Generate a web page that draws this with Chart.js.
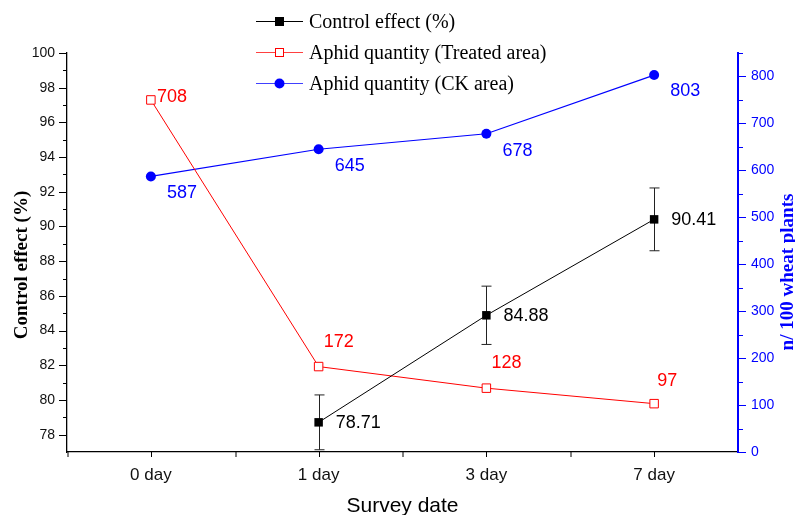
<!DOCTYPE html>
<html>
<head>
<meta charset="utf-8">
<script src="https://cdn.jsdelivr.net/npm/chart.js@4.4.0/dist/chart.umd.min.js"></script>
<style>
  html, body { margin: 0; padding: 0; background: #fff; }
  #wrap { width: 795px; height: 515px; }
</style>
</head>
<body>
<div id="wrap"><canvas id="chartAphid" width="795" height="515"></canvas></div>
<script>
// data
const days = ['0 day', '1 day', '3 day', '7 day'];
const controlEffect = [null, 78.71, 84.88, 90.41];
const controlErr = [null, 1.58, 1.68, 1.81];
const controlText = ['', '78.71', '84.88', '90.41'];
const treatedQty = [750, 182, 136, 103];
const treatedText = ['708', '172', '128', '97'];
const ckQty = [587, 645, 678, 803];
const ckText = ['587', '645', '678', '803'];
const leftTicks = [78, 80, 82, 84, 86, 88, 90, 92, 94, 96, 98, 100];
const rightTicks = [0, 100, 200, 300, 400, 500, 600, 700, 800];

const labelTexts = [controlText, treatedText, ckText];
// where each value label sits relative to its point
const labelOffsets = [
	[null, [17, 1], [17, 1], [17, 1]],
	[[6, -3], [5, -25], [5, -25], [3, -23]],
	[[16, 17], [16, 17], [16, 17], [16, 16]]
];

const extras = {
	id: 'extras',
	beforeDatasetsDraw(chart) {
		// error bars on control effect
		const ctx = chart.ctx;
		const x = chart.scales.x;
		const y = chart.scales.yLeft;
		ctx.save();
		ctx.strokeStyle = '#222';
		ctx.lineWidth = 1;
		controlEffect.forEach(function(v, i) {
			if (v === null) return;
			let px = Math.round(x.getPixelForValue(i)) + 0.5;
			let top = y.getPixelForValue(v + controlErr[i]);
			let bot = y.getPixelForValue(v - controlErr[i]);
			ctx.beginPath();
			ctx.moveTo(px, top); ctx.lineTo(px, bot);
			ctx.moveTo(px - 5, top); ctx.lineTo(px + 5, top);
			ctx.moveTo(px - 5, bot); ctx.lineTo(px + 5, bot);
			ctx.stroke();
		});
		ctx.restore();
	},
	afterDraw(chart) {
		const ctx = chart.ctx;
		const area = chart.chartArea;
		const x = chart.scales.x;
		const yl = chart.scales.yLeft;
		const yr = chart.scales.yRight;
		ctx.save();

		// tick marks
		ctx.lineWidth = 1;
		ctx.strokeStyle = '#000';
		ctx.beginPath();
		leftTicks.forEach(function(v) {
			let py = Math.round(yl.getPixelForValue(v)) + 0.5;
			ctx.moveTo(area.left, py); ctx.lineTo(area.left - 8, py);
			if (v - 1 > yl.min) {
				let pm = Math.round(yl.getPixelForValue(v - 1)) + 0.5;
				ctx.moveTo(area.left, pm); ctx.lineTo(area.left - 4, pm);
			}
		});
		days.forEach(function(d, i) {
			let px = Math.round(x.getPixelForValue(i)) + 0.5;
			ctx.moveTo(px, area.bottom); ctx.lineTo(px, area.bottom + 5);
			let pb = Math.round(px - (x.getPixelForValue(1) - x.getPixelForValue(0)) / 2);
			ctx.moveTo(pb, area.bottom); ctx.lineTo(pb, area.bottom + 5);
		});
		ctx.stroke();

		ctx.strokeStyle = '#0000ff';
		ctx.beginPath();
		rightTicks.forEach(function(v) {
			let py = Math.round(yr.getPixelForValue(v)) + 0.5;
			ctx.moveTo(area.right, py); ctx.lineTo(area.right + 8, py);
			let pm = Math.round(yr.getPixelForValue(v + 50)) + 0.5;
			ctx.moveTo(area.right, pm); ctx.lineTo(area.right + 5, pm);
		});
		ctx.stroke();

		// value labels
		ctx.font = '18px "Liberation Sans", Arial, sans-serif';
		ctx.textAlign = 'left';
		ctx.textBaseline = 'middle';
		chart.data.datasets.forEach(function(ds, di) {
			let meta = chart.getDatasetMeta(di);
			ctx.fillStyle = ds.borderColor;
			meta.data.forEach(function(pt, i) {
				let off = labelOffsets[di][i];
				if (!off || !labelTexts[di][i]) return;
				ctx.fillText(labelTexts[di][i], pt.x + off[0], pt.y + off[1]);
			});
		});

		// legend
		ctx.font = '20px "Liberation Serif", "Times New Roman", serif';
		chart.data.datasets.forEach(function(ds, di) {
			let ly = Math.round(20.7 + 31 * di) + 0.5;
			ctx.globalAlpha = di === 0 ? 1 : 0.75;
			ctx.strokeStyle = ds.borderColor;
			ctx.lineWidth = 1;
			ctx.beginPath();
			ctx.moveTo(256, ly); ctx.lineTo(303, ly);
			ctx.stroke();
			ctx.globalAlpha = 1;
			if (ds.pointStyle === 'circle') {
				ctx.fillStyle = ds.pointBackgroundColor;
				ctx.beginPath();
				ctx.arc(279.5, ly, 5, 0, Math.PI * 2);
				ctx.fill();
			} else {
				ctx.fillStyle = ds.pointBackgroundColor;
				ctx.fillRect(275.5, ly - 4, 8, 8);
				ctx.strokeStyle = ds.pointBorderColor;
				ctx.strokeRect(275.5, ly - 4, 8, 8);
			}
			ctx.fillStyle = '#000';
			ctx.fillText(ds.label, 309, ly + 1);
		});

		// axis titles
		ctx.textAlign = 'center';
		ctx.font = 'bold 19px "Liberation Serif", "Times New Roman", serif';
		ctx.save();
		ctx.translate(22, 265);
		ctx.rotate(-Math.PI / 2);
		ctx.fillStyle = '#000';
		ctx.fillText('Control effect (%)', 0, 0);
		ctx.restore();
		ctx.save();
		ctx.translate(788, 272);
		ctx.rotate(-Math.PI / 2);
		ctx.fillStyle = '#0000ff';
		ctx.fillText('n/ 100 wheat plants', 0, 0);
		ctx.restore();

		ctx.font = '21px "Liberation Sans", Arial, sans-serif';
		ctx.fillStyle = '#000';
		ctx.textBaseline = 'alphabetic';
		ctx.fillText('Survey date', (area.left + area.right) / 2, 512);
		ctx.restore();
	}
};

let ctx = document.getElementById('chartAphid');

let myAphidChart = new Chart(ctx, {
	type: 'line',
	data: {
		labels: days,
		datasets: [{
			label: 'Control effect (%)',
			data: controlEffect,
			yAxisID: 'yLeft',
			borderColor: '#000000',
			borderWidth: 1,
			pointStyle: 'rect',
			pointRadius: 6,
			pointBackgroundColor: '#000000',
			pointBorderColor: '#000000',
			pointBorderWidth: 0
		}, {
			label: 'Aphid quantity (Treated area)',
			data: treatedQty,
			yAxisID: 'yRight',
			borderColor: '#ff0000',
			borderWidth: 1,
			pointStyle: 'rect',
			pointRadius: 6,
			pointBackgroundColor: '#ffffff',
			pointBorderColor: '#ff0000',
			pointBorderWidth: 1
		}, {
			label: 'Aphid quantity (CK area)',
			data: ckQty,
			yAxisID: 'yRight',
			borderColor: '#0000ff',
			borderWidth: 1.2,
			pointStyle: 'circle',
			pointRadius: 5,
			pointBackgroundColor: '#0000ff',
			pointBorderColor: '#0000ff',
			pointBorderWidth: 0
		}]
	},
	options: {
		responsive: false,
		animation: false,
		layout: { padding: { top: 53, left: 0, right: 0, bottom: 0 } },
		plugins: {
			legend: { display: false },
			tooltip: { enabled: false }
		},
		scales: {
			x: {
				offset: true,
				grid: { display: false },
				border: { color: '#000', width: 1.3 },
				ticks: { color: '#111', font: { family: 'Liberation Sans', size: 17 }, padding: 5 },
				afterFit: function(s) { s.height = 63; }
			},
			yLeft: {
				position: 'left',
				min: 77,
				max: 100,
				afterBuildTicks: function(s) { s.ticks = leftTicks.map(v => ({ value: v })); },
				grid: { display: false },
				border: { color: '#000', width: 1.3 },
				ticks: { color: '#111', font: { family: 'Liberation Sans', size: 14 }, padding: 4 },
				afterFit: function(s) { s.width = 67; }
			},
			yRight: {
				position: 'right',
				min: 0,
				max: 850,
				afterBuildTicks: function(s) { s.ticks = rightTicks.map(v => ({ value: v })); },
				grid: { display: false },
				border: { color: '#0000ff', width: 2 },
				ticks: { color: '#0000ff', font: { family: 'Liberation Sans', size: 14 }, padding: 5 },
				afterFit: function(s) { s.width = 57; }
			}
		}
	},
	plugins: [extras]
});
</script>
</body>
</html>
